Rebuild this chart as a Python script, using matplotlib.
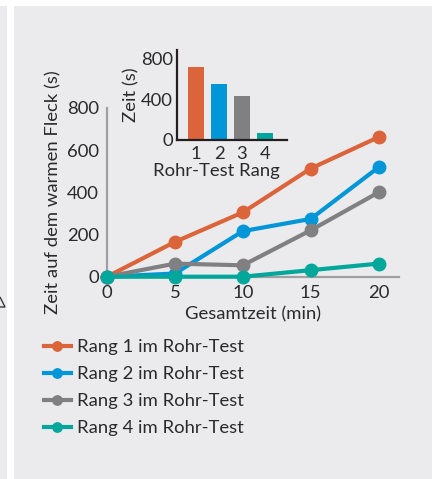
import matplotlib
matplotlib.use("Agg")
import matplotlib.pyplot as plt
from matplotlib.patches import Rectangle, Polygon

# data
minutes = [0, 5, 10, 15, 20]
rank1 = [0, 165, 305, 513, 662]
rank2 = [0, 15, 216, 274, 519]
rank3 = [0, 62, 54, 220, 400]
rank4 = [0, 0, 0, 31, 62]
series_labels = ["Rang 1 im Rohr-Test", "Rang 2 im Rohr-Test",
                 "Rang 3 im Rohr-Test", "Rang 4 im Rohr-Test"]
bar_ranks = [1, 2, 3, 4]
bar_times = [718, 549, 431, 72]

colors = ["#dc643b", "#0096d7", "#808083", "#00a79a"]
text_col = "#2b2a2b"
panel_col = "#ebebed"
fs = 13.3

plt.rcParams['font.family'] = ['Lato', 'DejaVu Sans']
plt.rcParams['text.color'] = text_col
plt.rcParams['axes.labelcolor'] = text_col
plt.rcParams['xtick.color'] = text_col
plt.rcParams['ytick.color'] = text_col

W, H = 432, 479
fig = plt.figure(figsize=(W / 100, H / 100), dpi=100, facecolor="white")


def box(x0, y0, x1, y1):
    # pixel box (top-left origin) -> figure fraction rect
    return [x0 / W, 1 - y1 / H, (x1 - x0) / W, (y1 - y0) / H]


def pt(x, y):
    return (x / W, 1 - y / H)


# background panels
fig.patches.append(Rectangle((14 / W, 0), 1, 1 - 6 / H, transform=fig.transFigure,
                             facecolor=panel_col, edgecolor="none", zorder=-10))
fig.patches.append(Rectangle((0, 0), 7 / W, 1 - 6 / H, transform=fig.transFigure,
                             facecolor=panel_col, edgecolor="none", zorder=-10))
# bit of a triangle glyph peeking in from the neighbouring panel
fig.patches.append(Polygon([pt(-5, 307), pt(0, 297), pt(5, 307)], closed=True,
                           transform=fig.transFigure, fill=False,
                           edgecolor=text_col, lw=0.9))

# main line chart
ax = fig.add_axes(box(107, 108, 399, 276.7))
ax.set_facecolor("none")
for vals, c, lab in zip([rank1, rank2, rank3, rank4], colors, series_labels):
    ax.plot(minutes, vals, color=c, lw=3, marker="o", ms=9, label=lab, clip_on=False, zorder=3)
ax.set_xlim(0, 21.5)
ax.set_ylim(0, 800)
ax.set_xticks([0, 5, 10, 15, 20])
ax.set_yticks([0, 200, 400, 600, 800])
ax.tick_params(length=0, labelsize=fs)
ax.tick_params(axis="y", pad=6)
ax.tick_params(axis="x", pad=6)
for s in ["top", "right"]:
    ax.spines[s].set_visible(False)
for s in ["left", "bottom"]:
    ax.spines[s].set_color("#a0a0a2")
    ax.spines[s].set_linewidth(1.6)
ax.set_xlabel("Gesamtzeit (min)", fontsize=fs, labelpad=4)
ax.set_ylabel("Zeit auf dem warmen Fleck (s)", fontsize=fs, labelpad=4)

leg = fig.legend(loc="upper left", bbox_to_anchor=(44 / W, 1 - 339 / H), frameon=False,
                 fontsize=fs, handlelength=1.45, handletextpad=0.33, labelspacing=0.6,
                 markerscale=0.75, borderaxespad=0, borderpad=0)

# inset bar chart
ins = fig.add_axes(box(177, 50, 287, 140))
ins.set_facecolor("none")
ins.bar(bar_ranks, bar_times, width=0.7, color=colors)
ins.set_xlim(0.17, 4.96)
ins.set_ylim(0, 881)
ins.set_xticks(bar_ranks)
ins.set_yticks([0, 400, 800])
ins.tick_params(length=0, labelsize=fs)
ins.tick_params(axis="y", pad=3)
ins.tick_params(axis="x", pad=4)
for s in ["top", "right"]:
    ins.spines[s].set_visible(False)
for s in ["left", "bottom"]:
    ins.spines[s].set_color("#231f20")
    ins.spines[s].set_linewidth(1.6)
ins.set_xlabel("Rohr-Test Rang", fontsize=fs, labelpad=1)
ins.xaxis.label.set_x((216 - 177) / 110)
ins.set_ylabel("Zeit (s)", fontsize=fs, labelpad=1)

fig.savefig("out.png", dpi=100, facecolor="white")
